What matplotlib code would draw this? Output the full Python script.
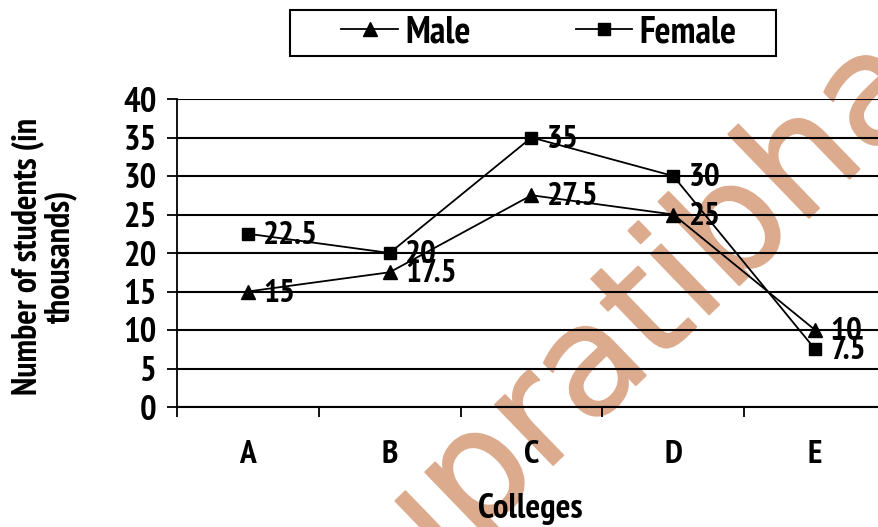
import matplotlib
matplotlib.use("Agg")
import matplotlib.pyplot as plt
from matplotlib import font_manager as fm
from matplotlib.patches import Rectangle
import matplotlib.patheffects as pe

colleges = ["A", "B", "C", "D", "E"]
male = [15, 17.5, 27.5, 25, 10]
female = [22.5, 20, 35, 30, 7.5]
male_labels = ["15", "17.5", "27.5", "25", "10"]
female_labels = ["22.5", "20", "35", "30", "7.5"]
y_ticks = [0, 5, 10, 15, 20, 25, 30, 35, 40]


def has_bold(name):
    for f in fm.fontManager.ttflist:
        if f.name == name and f.style == "normal":
            w = f.weight
            if w == "bold" or (isinstance(w, int) and w >= 700):
                return True
    return False


cands = ["Liberation Sans Narrow", "Arial Narrow", "Archivo Narrow", "PT Sans Narrow",
         "Roboto Condensed", "Pragati Narrow", "Fira Sans Condensed",
         "IBM Plex Sans Condensed", "Encode Sans Condensed", "Asap Condensed",
         "Barlow Semi Condensed", "Sofia Sans Condensed", "Liberation Sans"]
FAM = [f for f in cands if has_bold(f)][:1] + ["DejaVu Sans"]
plt.rcParams["font.family"] = FAM
plt.rcParams["font.weight"] = "bold"

W, H = 879, 527
fig = plt.figure(figsize=(W / 100, H / 100), dpi=100)
ax = fig.add_axes([177 / W, (H - 407) / H, (886 - 177) / W, (407 - 99) / H])
ax.patch.set_alpha(0)

xs = [i + 0.5 for i in range(len(colleges))]
ax.plot(xs, male, color="black", lw=1.3, marker="^", ms=10, label="Male", zorder=4)
ax.plot(xs, female, color="black", lw=1.3, marker="s", ms=8.5, label="Female", zorder=4)

LBL = 24
for x, y, t in zip(xs, male, male_labels):
    ax.annotate(t, (x, y), xytext=(11, -1.5), textcoords="offset points",
                ha="left", va="center", fontsize=LBL, fontweight="bold", zorder=5)
for x, y, t in zip(xs, female, female_labels):
    ax.annotate(t, (x, y), xytext=(11, -1.5), textcoords="offset points",
                ha="left", va="center", fontsize=LBL, fontweight="bold", zorder=5)

ax.set_xlim(0, 5)
ax.set_ylim(0, 40)
ax.set_yticks(y_ticks)
ax.set_yticklabels([str(v) for v in y_ticks], fontsize=25, fontweight="bold")
ax.tick_params(axis="y", length=7.5, width=1.3, pad=7, direction="out")
ax.set_xticks(range(6))
ax.set_xticklabels([""] * 6)
ax.tick_params(axis="x", which="major", length=7, width=1.3, direction="out")
ax.set_xticks(xs, minor=True)
ax.set_xticklabels(colleges, minor=True, fontsize=24, fontweight="bold")
ax.tick_params(axis="x", which="minor", length=0, pad=24)
ax.grid(axis="y", color="black", lw=1.5, zorder=1)
ax.set_axisbelow(True)
for s in ["top", "right"]:
    ax.spines[s].set_visible(False)
ax.spines["left"].set_linewidth(1.3)
ax.spines["bottom"].set_linewidth(1.5)

fig.text(44 / W, 1 - 256 / H, "Number of students (in\nthousands)", rotation=90,
         ha="center", va="center", multialignment="center", fontsize=24.5,
         fontweight="bold", linespacing=1.0)
fig.text(530 / W, 1 - 509 / H, "Colleges", ha="center", va="center", fontsize=25,
         fontweight="bold")

fig.patches.append(Rectangle((290 / W, 1 - 56 / H), (776 - 290) / W, 46 / H,
                             transform=fig.transFigure, fill=False,
                             edgecolor="black", lw=1.5))
leg = fig.legend(loc="center", bbox_to_anchor=(539 / W, 1 - 33 / H), ncol=2,
                 frameon=False, handlelength=1.5, handletextpad=0.2,
                 columnspacing=2.8, borderpad=0, borderaxespad=0,
                 prop={"weight": "bold", "size": 27})

WM = "#dcab8e"
fig.text(670 / W, 1 - 352 / H, "upratibha", rotation=44, rotation_mode="anchor",
         ha="center", va="baseline", fontsize=110, color=WM,
         family="DejaVu Sans", fontweight="normal", zorder=-5,
         path_effects=[pe.withStroke(linewidth=1.5, foreground=WM)])

fig.savefig("out.png", dpi=100)
